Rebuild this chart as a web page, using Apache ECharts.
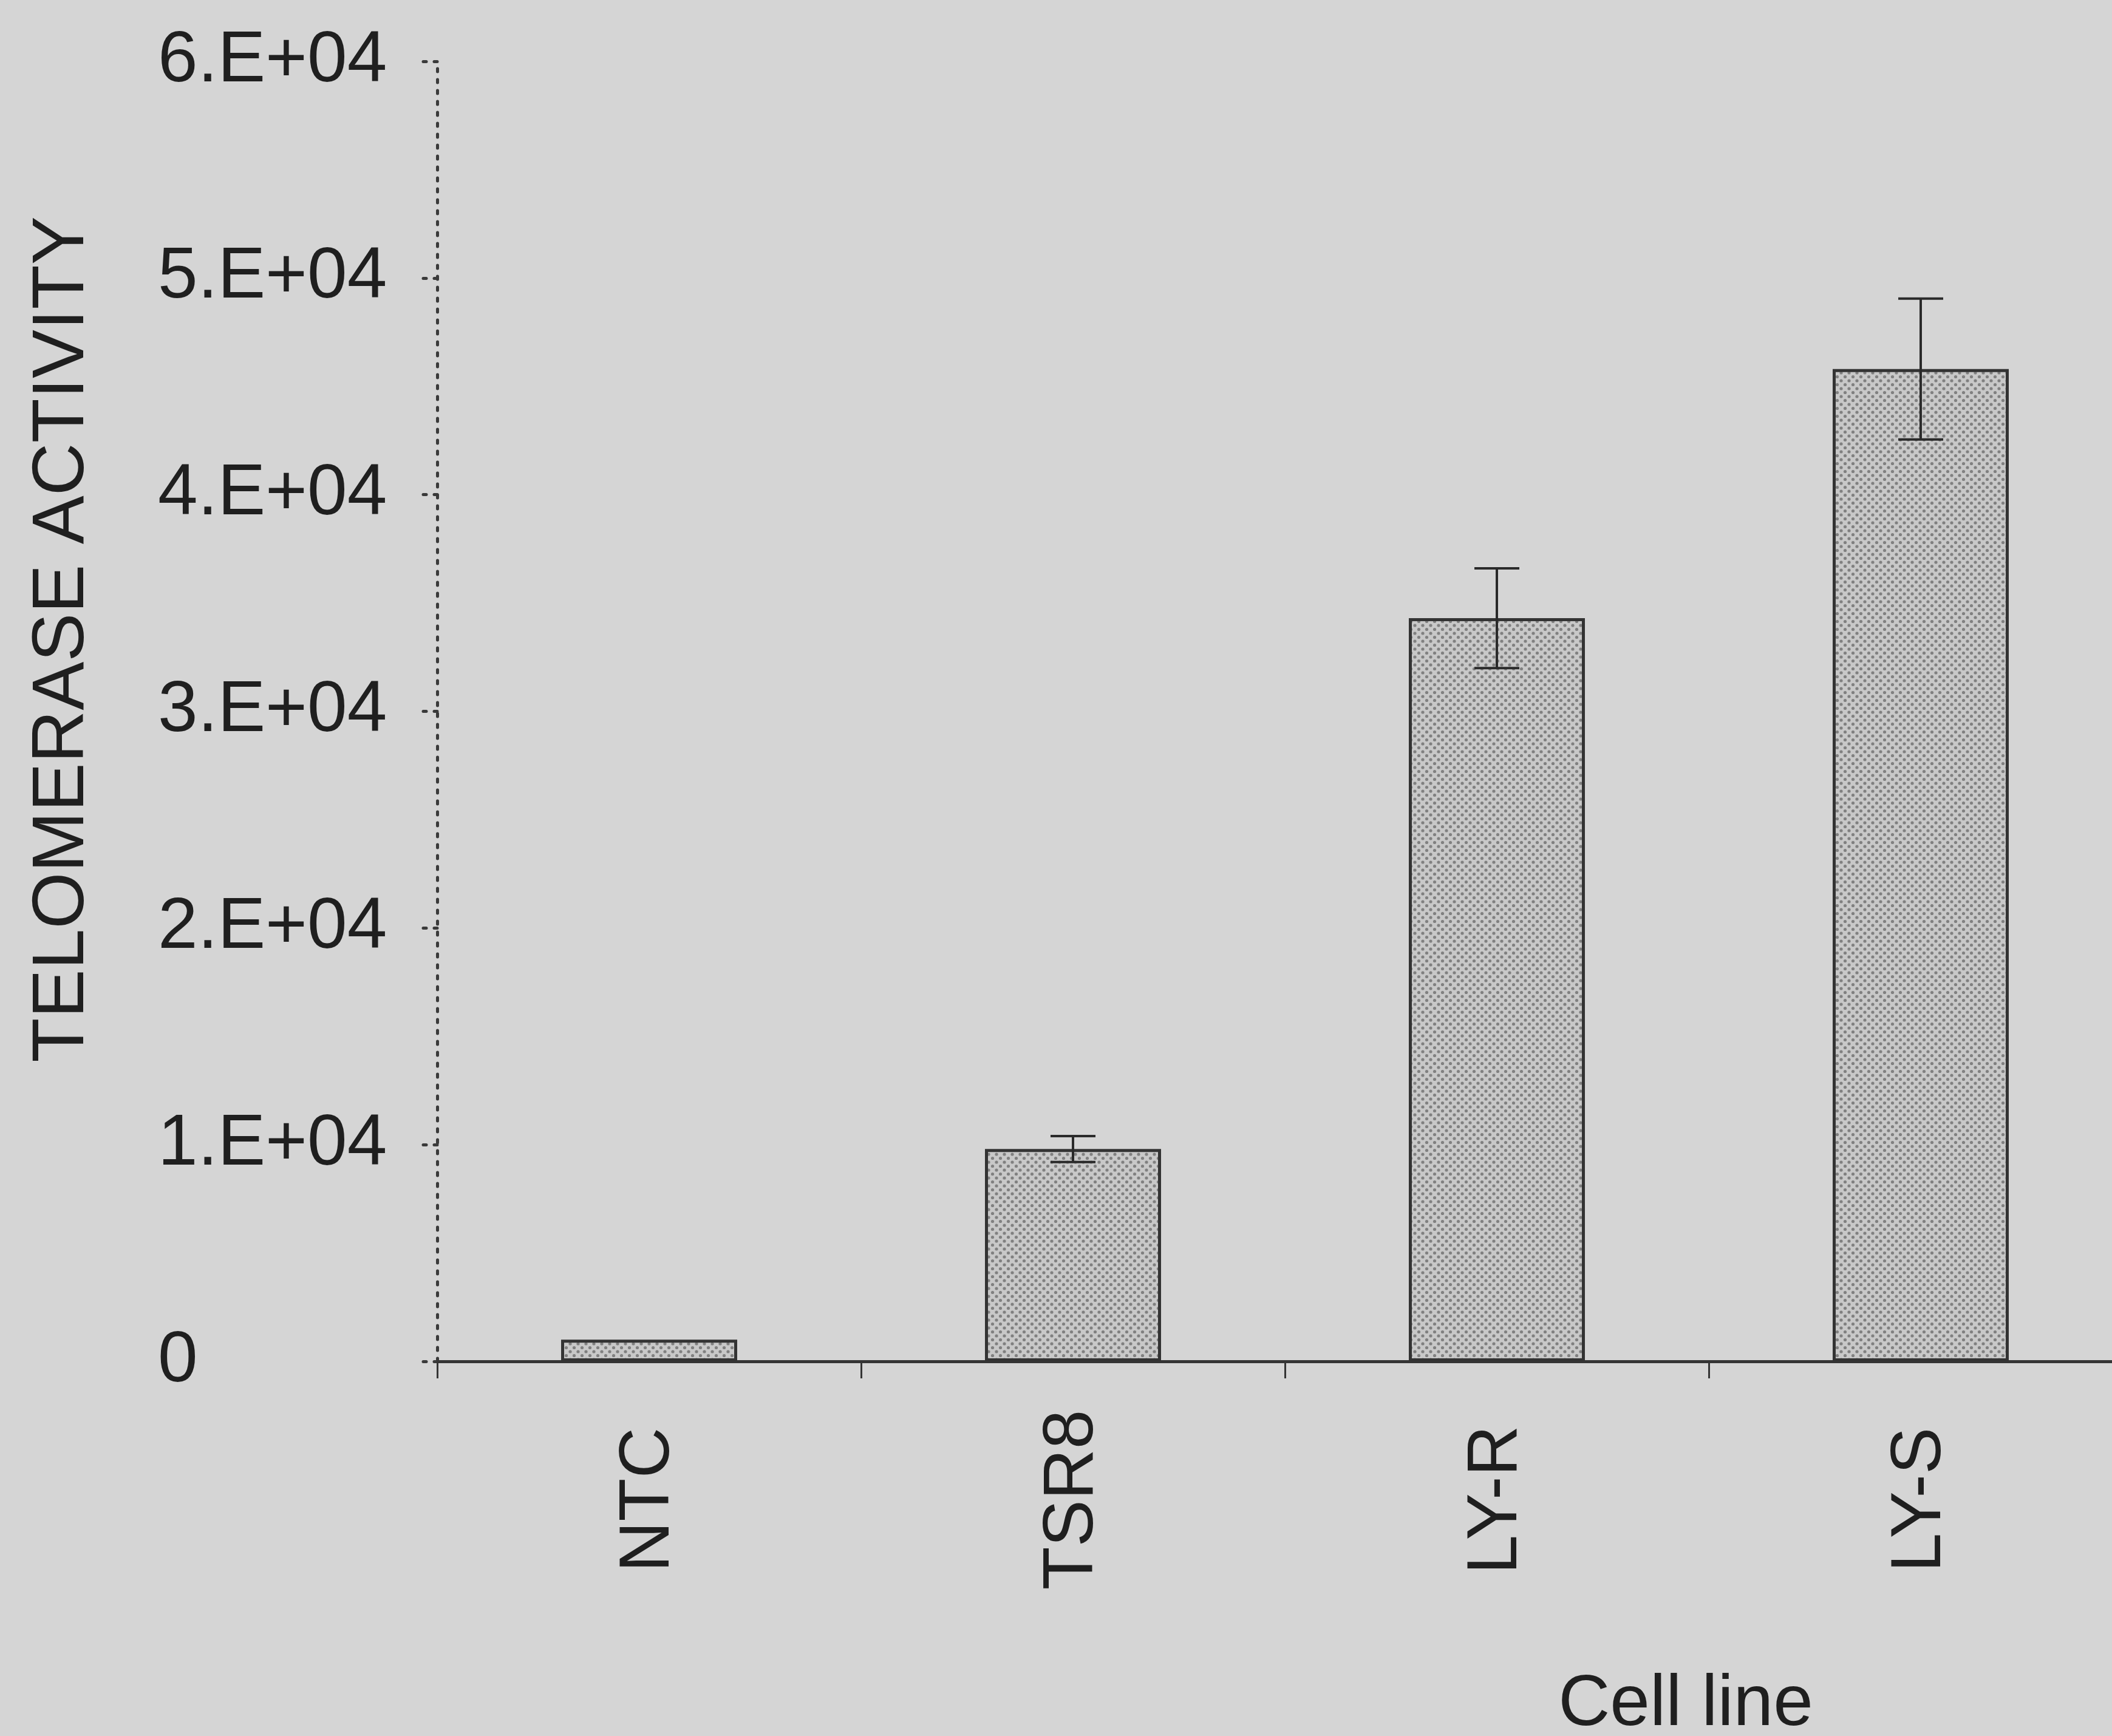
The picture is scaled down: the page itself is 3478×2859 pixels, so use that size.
<!DOCTYPE html>
<html>
<head>
<meta charset="utf-8">
<script src="https://cdn.jsdelivr.net/npm/echarts@6/dist/echarts.min.js"></script>
<style>
  html, body { margin: 0; padding: 0; background: #d5d5d5; }
  #chart { width: 3478px; height: 2859px; }
</style>
</head>
<body>
<div id="chart"></div>
<script>
// Telomerase activity per cell line (mean and ± error)
const cellLines = ['NTC', 'TSR8', 'LY-R', 'LY-S'];
const activity = [1000, 9800, 34300, 45800];
const activityErr = [0, 600, 2300, 3250];
const yTickLabels = ['0', '1.E+04', '2.E+04', '3.E+04', '4.E+04', '5.E+04', '6.E+04'];
const yStep = 10000;

const FONT = '"Liberation Sans", Arial, sans-serif';
const INK = '#1f1f1f';

// Small halftone tile used as the bar fill
function halftoneTile() {
  const s = 13;
  const c = document.createElement('canvas');
  c.width = s; c.height = s;
  const g = c.getContext('2d');
  g.fillStyle = '#c8c8c8';
  g.fillRect(0, 0, s, s);
  g.fillStyle = '#808080';
  [[3, 3], [9.5, 9.5]].forEach(([x, y]) => {
    g.beginPath(); g.arc(x, y, 2.6, 0, Math.PI * 2); g.fill();
  });
  return c;
}

const errData = cellLines.map((c, i) => [i, activity[i] - activityErr[i], activity[i] + activityErr[i]]);

const chart = echarts.init(document.getElementById('chart'), null, { renderer: 'canvas' });

chart.setOption({
  animation: false,
  backgroundColor: '#d5d5d5',
  grid: {
    left: 720, top: 101, width: 2792, height: 2141,
    containLabel: false, outerBoundsMode: 'none'
  },
  xAxis: {
    type: 'category',
    data: cellLines,
    boundaryGap: true,
    axisLine: { lineStyle: { color: '#353535', width: 5 } },
    axisTick: { show: true, length: 28, lineStyle: { color: '#353535', width: 3 } },
    axisLabel: {
      rotate: 90, margin: 228, align: 'center', verticalAlign: 'middle',
      fontFamily: FONT, fontSize: 116, color: INK
    },
    splitLine: { show: false }
  },
  yAxis: {
    type: 'value',
    min: 0, max: 60000, interval: yStep,
    axisLine: { show: true, lineStyle: { color: '#3a3a3a', width: 5, type: [5, 13], cap: 'round' } },
    axisTick: { show: true, length: 35, lineStyle: { color: '#3a3a3a', width: 5, type: [5, 13], cap: 'round' } },
    axisLabel: {
      margin: 460, align: 'left',
      fontFamily: FONT, fontSize: 118, color: INK,
      formatter: v => yTickLabels[Math.round(v / yStep)]
    },
    splitLine: { show: false }
  },
  graphic: [
    {
      type: 'text', x: 104, y: 1053, rotation: Math.PI / 2,
      style: {
        text: 'TELOMERASE ACTIVITY', fill: INK, font: '120px ' + FONT,
        align: 'center', verticalAlign: 'middle'
      }
    },
    {
      type: 'text', x: 2776, y: 2808,
      style: {
        text: 'Cell line', fill: INK, font: '118px ' + FONT,
        align: 'center', verticalAlign: 'middle'
      }
    }
  ],
  series: [
    {
      type: 'bar',
      data: activity,
      barWidth: 290,
      z: 2,
      itemStyle: {
        color: { image: halftoneTile(), repeat: 'repeat' },
        borderColor: '#333333',
        borderWidth: 5
      }
    },
    {
      type: 'custom',
      z: 3,
      data: errData,
      encode: { x: 0, y: [1, 2] },
      renderItem(params, api) {
        const x = api.value(0), lo = api.value(1), hi = api.value(2);
        if (hi === lo) return;
        const top = api.coord([x, hi]);
        const bot = api.coord([x, lo]);
        const half = 37;
        const style = { stroke: '#2a2a2a', lineWidth: 4 };
        return {
          type: 'group',
          children: [
            { type: 'line', shape: { x1: top[0], y1: top[1], x2: bot[0], y2: bot[1] }, style },
            { type: 'line', shape: { x1: top[0] - half, y1: top[1], x2: top[0] + half, y2: top[1] }, style },
            { type: 'line', shape: { x1: bot[0] - half, y1: bot[1], x2: bot[0] + half, y2: bot[1] }, style }
          ]
        };
      }
    }
  ]
});
</script>
</body>
</html>
